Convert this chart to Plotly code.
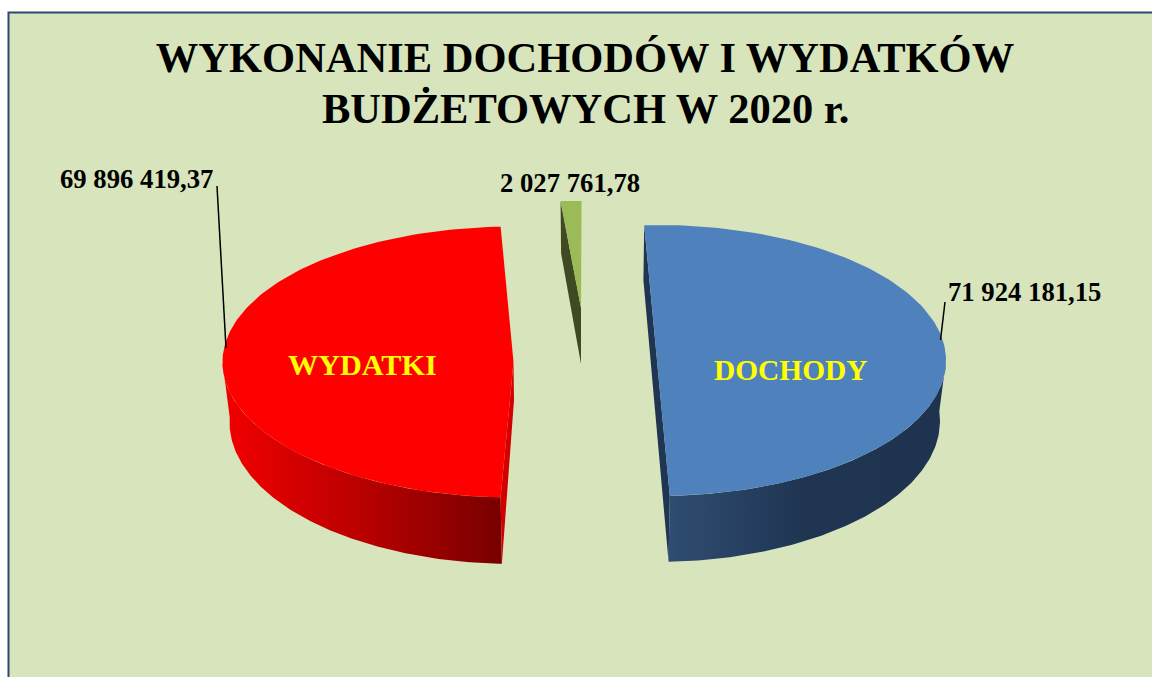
import numpy as np
import plotly.graph_objects as go

# ---- data ----
categories = ["DOCHODY", "WYDATKI", "Różnica"]
values = [71924181.15, 69896419.37, 2027761.78]
value_labels = ["71 924 181,15", "69 896 419,37", "2 027 761,78"]
title_lines = ["WYKONANIE DOCHODÓW I WYDATKÓW", "BUDŻETOWYCH W 2020 r."]

# ---- pie geometry (pixels of the 1152x677 picture) ----
total = sum(values)
sweep = [v / total * 360 for v in values]
spans = {
    "blue": (-sweep[2] / 2, -sweep[2] / 2 + sweep[0]),
    "red": (270 - sweep[1] / 2, 270 + sweep[1] / 2),
    "green": (-sweep[2] / 2, sweep[2] / 2),
}
BG = "#D8E4BC"


def pts(cx, cy, rx, ry, a0, a1, shear=0.0, n=140):
    a = np.radians(np.linspace(a0, a1, n))
    return cx + rx * np.sin(a) - shear * ry * np.cos(a), cy - ry * np.cos(a)


def poly(xs, ys, color=None, gradient=None, name="", hover=""):
    kw = dict(fillgradient=gradient) if gradient else dict(fillcolor=color)
    return go.Scatter(x=np.concatenate(xs), y=np.concatenate(ys), mode="lines", fill="toself",
                      line=dict(width=0), showlegend=False, name=name, text=hover,
                      hoverinfo="text", **kw)


fig = go.Figure()

# blue slice
top_b = dict(cx=657, cy=360.5, rx=289, ry=135.5)
low_b = dict(cx=656, cy=421, rx=284, ry=141)
a0, a1 = spans["blue"]
lx, ly = pts(**low_b, a0=a0, a1=a1)
tx, ty = pts(**top_b, a0=a0, a1=a1)
fig.add_trace(poly([[tx[0], tx[-1], lx[-1], lx[0]]], [[ty[0], ty[-1], ly[-1], ly[0]]],
                   color="#1F3552", name=categories[0], hover=value_labels[0]))
wx, wy = pts(**top_b, a0=90, a1=a1)
lx2, ly2 = pts(**low_b, a0=a1, a1=86)
fig.add_trace(poly([wx, lx2], [wy, ly2], name=categories[0], hover=value_labels[0],
                   gradient=dict(type="horizontal", start=667, stop=940,
                                 colorscale=[[0, "#2F4D72"], [0.5, "#1F3552"], [1, "#1E3350"]])))
fig.add_trace(poly([tx], [ty], color="#4F81BD", name=categories[0], hover=value_labels[0]))

# red slice
top_r = dict(cx=513.5, cy=362, rx=291, ry=135.5)
low_r = dict(cx=514.5, cy=422, rx=285, ry=142)
APEX_DROP = 38
a0, a1 = spans["red"]
tx, ty = pts(**top_r, a0=a0, a1=a1)
wx, wy = pts(**top_r, a0=a0, a1=270)
lx2, ly2 = pts(**low_r, a0=272, a1=a0)
fig.add_trace(poly([wx, lx2], [wy, ly2], name=categories[1], hover=value_labels[1],
                   gradient=dict(type="horizontal", start=228, stop=502,
                                 colorscale=[[0, "#F00000"], [0.5, "#B80000"], [1, "#780000"]])))
c = top_r
lcx, lcy = pts(**low_r, a0=a0, a1=a0, n=1)
fig.add_trace(poly([[c["cx"], c["cx"] + 0.5, lcx[0], tx[0]]],
                   [[c["cy"], c["cy"] + APEX_DROP, lcy[0], ty[0]]],
                   color="#D40000", name=categories[1], hover=value_labels[1]))
fig.add_trace(poly([[c["cx"]], tx], [[c["cy"]], ty], color="#FF0000",
                   name=categories[1], hover=value_labels[1]))

# green slice
top_g = dict(cx=581, cy=308, rx=237, ry=107, shear=0.093)
G_DEPTH = 56
a0, a1 = spans["green"]
tx, ty = pts(**top_g, a0=a0, a1=a1, n=12)
fig.add_trace(poly([[tx[0], tx[0] + 0.5, top_g["cx"], top_g["cx"]]],
                   [[ty[0], ty[0] + G_DEPTH - 4, top_g["cy"] + G_DEPTH, top_g["cy"]]],
                   color="#3F4A23", name=categories[2], hover=value_labels[2]))
fig.add_trace(poly([[top_g["cx"]], tx], [[top_g["cy"]], ty], color="#9BBB59",
                   name=categories[2], hover=value_labels[2]))

# ---- layout ----
label_font = dict(family="Liberation Serif", size=26.7, color="#000000", weight="bold")


def cat_font(size):
    return dict(family="Liberation Serif", size=size, color="#FFFF00", weight="bold")


def note(x, y, text, font):
    fig.add_annotation(x=x, y=y, text=text, font=font, showarrow=False, xref="x", yref="y",
                       xanchor="center", yanchor="middle")


title_font = dict(family="Liberation Serif", size=42.5, color="#000000", weight="bold")
note(585, 108, title_lines[1], title_font)
note(1024.5, 292, value_labels[0], label_font)
note(136, 179, value_labels[1], label_font)
note(570, 183, value_labels[2], label_font)
note(790, 370, categories[0], cat_font(29.4))
note(362.5, 365, categories[1], cat_font(30.2))

fig.update_layout(
    width=1152, height=677, margin=dict(l=0, r=0, t=0, b=0),
    paper_bgcolor="#FFFFFF", plot_bgcolor="#FFFFFF",
    xaxis=dict(range=[0, 1152], visible=False, fixedrange=True),
    yaxis=dict(range=[677, 0], visible=False, fixedrange=True),
    title=dict(text=title_lines[0], x=585 / 1152, xanchor="center",
               y=1 - 57 / 677, yanchor="middle", font=title_font),
    shapes=[
        dict(type="rect", layer="below", x0=8.5, x1=1170, y0=12.5, y1=700, fillcolor=BG,
             line=dict(color="#2A4A72", width=2)),
        dict(type="line", x0=217, y0=186, x1=226, y1=348, line=dict(color="#000000", width=1.5)),
        dict(type="line", x0=945, y0=302, x1=940.5, y1=340, line=dict(color="#000000", width=1.5)),
    ],
)

fig.write_html("out.html", config=dict(displayModeBar=False),
               post_script="document.body.style.margin='0';document.body.style.overflow='hidden';")
